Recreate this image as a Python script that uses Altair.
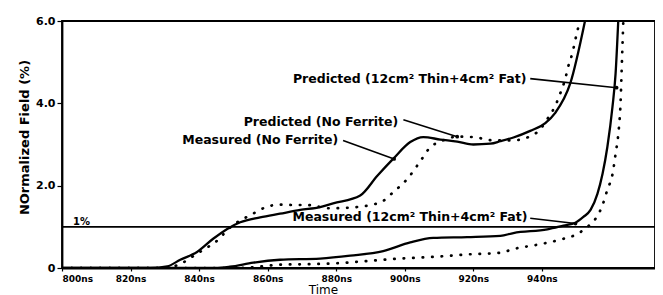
import altair as alt
import pandas as pd

# ---------------- data ----------------
meas_nf_t = [800, 825.7, 830.7, 834.5, 839.4, 844.1, 848.2, 852.0, 857.8, 863.6, 869.5, 875.3,
             879.1, 887.0, 892.0, 896.6, 901.6, 905.4, 910.4, 915.3, 920.0, 925.0, 927.9,
             931.7, 936.6, 941.0, 943.9, 948.3, 952.7]
meas_nf_v = [0, 0, 0.04, 0.2, 0.39, 0.71, 0.95, 1.11, 1.23, 1.32, 1.41, 1.48,
             1.57, 1.76, 2.24, 2.65, 3.06, 3.18, 3.12, 3.07, 3.0, 3.02, 3.08,
             3.17, 3.33, 3.52, 3.77, 4.49, 6.05]

pred_nf_t = [800, 830, 835, 839.4, 842.6, 845.5, 848.2, 851.1, 854.9, 859.9, 863.6, 867.4,
             871.5, 878.2, 887.0, 893.7, 896.6, 900.7, 904.5, 907.4, 910.4, 915.3, 920.0,
             925.8, 931.7, 934.6, 939.6, 941.6, 943.9, 945.4, 946.9, 947.7, 948.9, 949.8,
             950.7, 951.5]
pred_nf_v = [0, 0, 0.12, 0.35, 0.51, 0.68, 0.92, 1.11, 1.28, 1.49, 1.54, 1.53,
             1.53, 1.45, 1.49, 1.63, 1.84, 2.16, 2.59, 2.93, 3.07, 3.19, 3.18,
             3.1, 3.1, 3.14, 3.38, 3.62, 3.94, 4.25, 4.62, 4.9, 5.22, 5.56,
             5.88, 6.2]

meas_12_t = [800, 844.7, 849.0, 855.8, 863.6, 875.3, 884.1, 893.7, 901.6, 908.3, 918.2, 927.9,
             931.7, 941.6, 946.3, 949.8, 952.1, 954.2, 956.2, 957.7, 959.1, 960.6, 961.5, 962.3]
meas_12_v = [0, 0, 0.03, 0.13, 0.2, 0.23, 0.3, 0.41, 0.62, 0.73, 0.75, 0.78,
             0.85, 0.94, 1.03, 1.1, 1.24, 1.41, 1.8, 2.29, 2.94, 3.92, 4.72, 6.04]

pred_12_t = [800, 852.0, 855.8, 863.6, 869.5, 879.1, 889.0, 898.7, 908.3, 918.2, 927.9, 931.7,
             939.6, 945.4, 950.4, 953.3, 955.6, 957.7, 959.1, 960.6, 961.5, 962.3, 962.9,
             963.4, 963.8]
pred_12_v = [0, 0, 0.02, 0.08, 0.09, 0.11, 0.17, 0.23, 0.27, 0.33, 0.37, 0.46,
             0.58, 0.69, 0.83, 1.0, 1.19, 1.53, 1.9, 2.28, 2.77, 3.26, 3.92,
             5.13, 6.1]

x_ticks = [800, 820, 840, 860, 880, 900, 920, 940]
x_tick_labels = ["800ns", "820ns", "840ns", "860ns", "880ns", "900ns", "920ns", "940ns"]
y_ticks = [0, 2, 4, 6]
y_tick_labels = ["0", "2.0", "4.0", "6.0"]

ref_level = [1.0]
ref_label = ["1%"]

ann_text = ["Predicted (12cm\u00b2 Thin+4cm\u00b2 Fat)", "Predicted (No Ferrite)",
            "Measured (No Ferrite)", "Measured (12cm\u00b2 Thin+4cm\u00b2 Fat)"]
ann_x = [935.5, 898.1, 880.6, 935.8]
ann_y = [4.6, 3.55, 3.11, 1.23]

arrow_x1 = [936.6, 899.6, 882.0, 936.6]
arrow_y1 = [4.6, 3.6, 3.10, 1.21]
arrow_x2 = [961.8, 915.3, 896.9, 949.8]
arrow_y2 = [4.38, 3.19, 2.65, 1.08]

# ---------------- tables ----------------
rows = []
for name, style, ts, vs in [
    ("Measured (No Ferrite)", "solid", meas_nf_t, meas_nf_v),
    ("Predicted (No Ferrite)", "dotted", pred_nf_t, pred_nf_v),
    ("Measured (12cm2)", "solid", meas_12_t, meas_12_v),
    ("Predicted (12cm2)", "dotted", pred_12_t, pred_12_v),
]:
    for t, v in zip(ts, vs):
        rows.append({"series": name, "style": style, "t": t, "v": v})
df = pd.DataFrame(rows)

ann_df = pd.DataFrame({"text": ann_text, "x": ann_x, "y": ann_y})
arr_df = pd.DataFrame({"x1": arrow_x1, "y1": arrow_y1, "x2": arrow_x2, "y2": arrow_y2})
ref_df = pd.DataFrame({"y": ref_level, "x1": [800], "x2": [973], "label": ref_label,
                       "lx": [803.2], "ly": [1.12]})

FONT = "DejaVu Sans"
xdom = [800, 973]
xscale = alt.Scale(domain=xdom, nice=False, zero=False)
yscale = alt.Scale(domain=[0, 6], nice=False, zero=True)

x_label_expr = "[" + ",".join("'%s'" % s for s in x_tick_labels) + "][(datum.value-800)/20]"
y_label_expr = "[" + ",".join("'%s'" % s for s in y_tick_labels) + "][datum.value/2]"

x_axis = alt.Axis(values=x_ticks, labelExpr=x_label_expr, title="Time", grid=False,
                  tickSize=3, tickWidth=1.2, tickColor="black", domainColor="black",
                  domainWidth=1.8, labelColor="black", labelFont=FONT, labelFontSize=9,
                  labelFontWeight="bold", labelPadding=3, titleFont=FONT, titleFontSize=12,
                  titleFontWeight="normal", titleColor="black", titleX=261, titleY=25,
                  titleBaseline="alphabetic")
y_axis = alt.Axis(values=y_ticks, labelExpr=y_label_expr, title="NOrmalized Field (%)",
                  grid=False, tickSize=5, tickWidth=1.2, tickColor="black",
                  domainColor="black", domainWidth=1.8, labelColor="black", labelFont=FONT,
                  labelFontSize=11, labelFontWeight="bold", labelPadding=2,
                  titleFont=FONT, titleFontSize=13, titleFontWeight="bold", titleColor="black",
                  titleX=-38, titleY=116, titleBaseline="middle", titleAngle=270)

base = alt.Chart(df)
solid = base.transform_filter(alt.datum.style == "solid").mark_line(
    clip=True, interpolate="monotone", color="black", strokeWidth=2.3
).encode(
    x=alt.X("t:Q", scale=xscale, axis=x_axis),
    y=alt.Y("v:Q", scale=yscale, axis=y_axis),
    detail="series:N",
)
dotted = base.transform_filter(alt.datum.style == "dotted").mark_line(
    clip=True, interpolate="monotone", color="black", strokeWidth=2.7,
    strokeDash=[0.5, 9], strokeCap="round"
).encode(
    x=alt.X("t:Q", scale=xscale),
    y=alt.Y("v:Q", scale=yscale),
    detail="series:N",
)

ref_rule = alt.Chart(ref_df).mark_rule(color="black", strokeWidth=1.6).encode(
    x=alt.X("x1:Q", scale=xscale), x2="x2:Q", y=alt.Y("y:Q", scale=yscale)
)
ref_text = alt.Chart(ref_df).mark_text(
    font=FONT, fontSize=10, fontWeight="bold", align="left", baseline="middle", color="black"
).encode(x=alt.X("lx:Q", scale=xscale), y=alt.Y("ly:Q", scale=yscale), text="label:N")

ann = alt.Chart(ann_df).mark_text(
    font=FONT, fontSize=12.5, fontWeight="bold", align="right", baseline="middle", color="black"
).encode(x=alt.X("x:Q", scale=xscale), y=alt.Y("y:Q", scale=yscale), text="text:N")

arrows = alt.Chart(arr_df).mark_rule(color="black", strokeWidth=1.6).encode(
    x=alt.X("x1:Q", scale=xscale), y=alt.Y("y1:Q", scale=yscale), x2="x2:Q", y2="y2:Q"
)
tips = alt.Chart(arr_df).mark_point(filled=True, color="black", size=14, opacity=1).encode(
    x=alt.X("x2:Q", scale=xscale), y=alt.Y("y2:Q", scale=yscale)
)

chart = alt.layer(ref_rule, solid, dotted, arrows, tips, ann, ref_text).properties(
    width=593, height=247,
    autosize=alt.AutoSizeParams(type="none"),
    padding={"left": 54, "top": 13, "right": 0, "bottom": 27},
    background="white",
).configure_view(stroke="black", strokeWidth=1.8)

chart.save("out.html", embed_options={"renderer": "svg", "actions": False})
